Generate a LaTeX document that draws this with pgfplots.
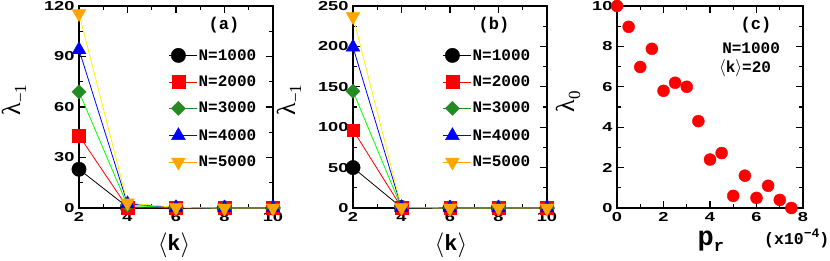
\documentclass[border=0pt]{standalone}
\usepackage{fontspec}
\setmainfont{Liberation Serif}
\newfontfamily\tickfont[UprightFont={* Bold}]{Liberation Sans}
\newfontfamily\legfont[UprightFont={* Bold}]{Liberation Mono}
\usepackage{pgfplots}
\pgfplotsset{compat=1.18}
\definecolor{mkgreen}{RGB}{34,139,34}
\definecolor{mkorange}{RGB}{255,165,0}
\newcommand\lam[1]{{\fontsize{26}{26}\selectfont λ}\raisebox{-6pt}{\fontsize{17}{17}\selectfont #1}}
\newcommand\kk{{\fontsize{24}{24}\selectfont$\langle$\raisebox{1pt}{\legfont\fontsize{22}{22}\selectfont k}$\rangle$}}
\pgfplotsset{
  myax/.style={
    scale only axis, width=194pt, height=202pt,
    axis line style={line width=1.5pt},
    every tick/.style={black, line width=1.3pt},
    major tick length=7pt, minor tick length=4pt,
    tick align=inside,
    tick label style={font=\tickfont\fontsize{13}{13}\selectfont},
    /pgf/number format/assume math mode=true,
    xticklabel={\scalebox{1.4}[1]{\pgfmathprintnumber{\tick}}},
    yticklabel={\scalebox{1.4}[1]{\pgfmathprintnumber{\tick}}},
    yticklabel style={xshift=-1pt},
    xticklabel style={yshift=-1pt},
    clip=false,
    minor x tick num=1, minor y tick num=1,
    every axis y label/.style={rotate=90, anchor=center},
    every axis x label/.style={anchor=center},
    legend style={draw=none, fill=none, anchor=north west,
      font=\legfont\fontsize{16}{16}\selectfont, row sep=12.2pt, inner sep=0pt,
      nodes={inner sep=1pt}},
    legend cell align=left,
  },
  ln/.style={line width=0.8pt, forget plot, mark=none},
  mk/.style={only marks, legend image code/.code={\path (-9pt,0pt) -- (19pt,0pt); \draw[##1] plot coordinates {(0pt,0pt)};}},
  mcirc/.style={mk, mark=*, black, mark size=7.2pt},
  msq/.style={mk, mark=square*, red, mark size=6.3pt},
  mdia/.style={mk, mark=square*, mkgreen, mark size=5pt, mark options={rotate=45}},
  mup/.style={mk, mark=triangle*, blue, mark size=8pt},
  mdn/.style={mk, mark=triangle*, mkorange, mark size=8pt, mark options={rotate=180}},
}
\begin{document}
\begin{tikzpicture}
\path[use as bounding box] (0,0) rectangle (830pt,261pt);
% (a)
\begin{axis}[myax, at={(79pt,53pt)}, anchor=south west,
  xmin=2, xmax=10, ymin=0, ymax=120,
  xtick={2,4,6,8,10}, ytick={0,30,60,90,120},
  ylabel={\lam{−1}}, ylabel style={at={(axis description cs:-0.335,0.535)}},
  xlabel={\kk}, xlabel style={at={(axis description cs:0.49,-0.183)}},
  legend style={at={(axis description cs:0.464,0.792)}}]
\addplot[ln, black] coordinates {(2,23) (4,0.5) (6,0) (8,0) (10,0)};
\addplot[ln, red] coordinates {(2,43) (4,0.3) (6,0) (8,0) (10,0)};
\addplot[ln, green] coordinates {(2,69) (4,1.5) (6,0.2) (8,0) (10,0)};
\addplot[ln, blue] coordinates {(2,94) (4,2.5) (6,0.2) (8,0) (10,0)};
\addplot[ln, yellow] coordinates {(2,115.5) (4,3) (6,0.3) (8,0) (10,0)};
\addplot[mcirc] coordinates {(2,23) (4,0.5) (6,0) (8,0) (10,0)};
\addplot[msq] coordinates {(2,43) (4,0.3) (6,0) (8,0) (10,0)};
\addplot[mdia] coordinates {(2,69) (4,1.5) (6,0.2) (8,0) (10,0)};
\addplot[mup] coordinates {(2,94) (4,2.5) (6,0.2) (8,0) (10,0)};
\addplot[mdn] coordinates {(2,115.5) (4,3) (6,0.3) (8,0) (10,0)};
\legend{N=1000,N=2000,N=3000,N=4000,N=5000}
\node[font=\legfont\fontsize{17}{17}\selectfont] at (axis description cs:0.747,0.906) {(a)};
\end{axis}
% (b)
\begin{axis}[myax, at={(353pt,53pt)}, anchor=south west,
  xmin=2, xmax=10, ymin=0, ymax=250,
  xtick={2,4,6,8,10}, ytick={0,50,100,150,200,250},
  ylabel={\lam{−1}}, ylabel style={at={(axis description cs:-0.33,0.535)}},
  xlabel={\kk}, xlabel style={at={(axis description cs:0.505,-0.183)}},
  legend style={at={(axis description cs:0.464,0.792)}}]
\addplot[ln, black] coordinates {(2,50) (4,0.5) (6,0) (8,0) (10,0)};
\addplot[ln, red] coordinates {(2,96.5) (4,0.5) (6,0) (8,0) (10,0)};
\addplot[ln, green] coordinates {(2,144.5) (4,0.5) (6,0) (8,0) (10,0)};
\addplot[ln, blue] coordinates {(2,199) (4,0.5) (6,0) (8,0) (10,0)};
\addplot[ln, yellow] coordinates {(2,237) (4,0.5) (6,0) (8,0) (10,0)};
\addplot[mcirc] coordinates {(2,50) (4,0.5) (6,0) (8,0) (10,0)};
\addplot[msq] coordinates {(2,96.5) (4,0.5) (6,0) (8,0) (10,0)};
\addplot[mdia] coordinates {(2,144.5) (4,0.5) (6,0) (8,0) (10,0)};
\addplot[mup] coordinates {(2,199) (4,0.5) (6,0) (8,0) (10,0)};
\addplot[mdn] coordinates {(2,237) (4,0.5) (6,0) (8,0) (10,0)};
\legend{N=1000,N=2000,N=3000,N=4000,N=5000}
\node[font=\legfont\fontsize{17}{17}\selectfont] at (axis description cs:0.727,0.906) {(b)};
\end{axis}
% (c)
\begin{axis}[myax, width=186pt, at={(617pt,53pt)}, anchor=south west,
  xmin=0, xmax=8, ymin=0, ymax=10,
  xtick={0,2,4,6,8}, ytick={0,2,4,6,8,10},
  ylabel={\lam{0}}, ylabel style={at={(axis description cs:-0.263,0.525)}},
  xlabel={{\legfont\fontsize{27}{27}\selectfont p}\raisebox{-6pt}{\legfont\fontsize{17}{17}\selectfont r}}, xlabel style={at={(axis description cs:0.505,-0.165)}}]
\addplot[only marks, mark=*, red, mark size=6pt] coordinates {
(0,10) (0.5,8.97) (1,6.98) (1.5,7.88) (2,5.8) (2.5,6.2) (3,6) (3.5,4.3)
(4,2.4) (4.5,2.72) (5,0.6) (5.5,1.6) (6,0.5) (6.5,1.1) (7,0.4) (7.5,0)};
\node[font=\legfont\fontsize{17}{17}\selectfont] at (axis description cs:0.747,0.906) {(c)};
\node[font=\legfont\fontsize{16}{16}\selectfont, anchor=west, inner sep=0pt] at (axis description cs:0.565,0.792) {N=1000};
\node[font=\legfont\fontsize{16}{16}\selectfont, anchor=west, inner sep=0pt] at (axis description cs:0.548,0.693) {$\langle$k$\rangle$=20};
\end{axis}
\node[font=\legfont\fontsize{16.5}{16.5}\selectfont, anchor=west, inner sep=0pt] at (764pt,23pt) {(x10\raisebox{7pt}{\fontsize{13}{13}\selectfont −4})};
\end{tikzpicture}
\end{document}
